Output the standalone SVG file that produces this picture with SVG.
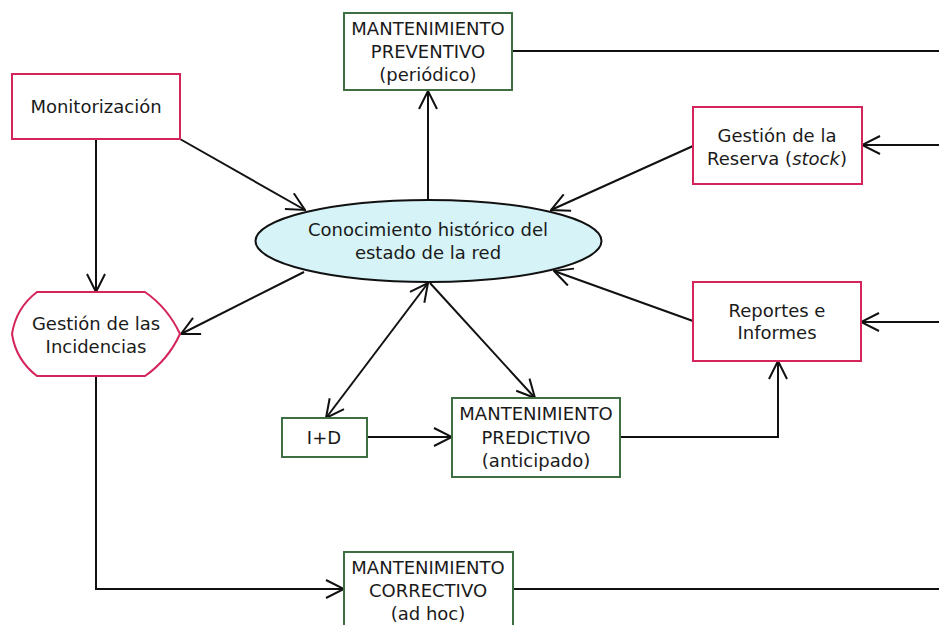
<svg xmlns="http://www.w3.org/2000/svg" width="939" height="625" viewBox="0 0 939 625">
  <defs>
    <marker id="arrow" viewBox="0 0 20 20" refX="19" refY="10" markerWidth="20" markerHeight="20" markerUnits="userSpaceOnUse" orient="auto-start-reverse">
      <path d="M1,1 L19,10 L1,19" fill="none" stroke="#111" stroke-width="2"/>
    </marker>
    <style>
      .lbl { font-family: "DejaVu Sans", "Liberation Sans", sans-serif; font-size: 18px; fill: #1a1a1a; text-anchor: middle; }
      .green { fill: #ffffff; stroke: #3f6e42; stroke-width: 2; }
      .pink { fill: #ffffff; stroke: #d4245a; stroke-width: 2; }
      .edge { fill: none; stroke: #111; stroke-width: 2; }
      .arr { marker-end: url(#arrow); }
      .both { marker-start: url(#arrow); marker-end: url(#arrow); }
    </style>
  </defs>
  <rect width="939" height="625" fill="#ffffff"/>

  <!-- connectors -->
  <g id="connectors">
    <path class="edge arr" d="M180,139 L305,210"/>
    <path class="edge arr" d="M96,139 L96,292"/>
    <path class="edge arr" d="M428,200 L428,91"/>
    <path class="edge arr" d="M693,146 L551,210"/>
    <path class="edge arr" d="M304,272 L181,334"/>
    <path class="edge both" d="M428,283 L326,418"/>
    <path class="edge arr" d="M430,283 L535,398"/>
    <path class="edge arr" d="M693,321 L554,271"/>
    <path class="edge arr" d="M367,437 L452,437"/>
    <path class="edge arr" d="M620,437 L778,437 L778,361"/>
    <path class="edge arr" d="M96,376 L96,589 L344,589"/>
    <path class="edge" d="M512,51 L939,51"/>
    <path class="edge arr" d="M939,145 L862,145"/>
    <path class="edge arr" d="M939,322 L861,322"/>
    <path class="edge" d="M513,589 L939,589"/>
  </g>

  <g id="preventivo">
    <rect class="green" x="344" y="13" width="168" height="77"/>
    <text class="lbl" x="428" y="35">MANTENIMIENTO</text>
    <text class="lbl" x="428" y="58">PREVENTIVO</text>
    <text class="lbl" x="428" y="81">(periódico)</text>
  </g>

  <g id="monitorizacion">
    <rect class="pink" x="12" y="74" width="168" height="65"/>
    <text class="lbl" x="96" y="113">Monitorización</text>
  </g>

  <g id="reserva">
    <rect class="pink" x="693" y="107" width="169" height="77"/>
    <text class="lbl" x="777" y="142">Gestión de la</text>
    <text class="lbl" x="777" y="165">Reserva (<tspan font-style="italic">stock</tspan>)</text>
  </g>

  <g id="conocimiento">
    <ellipse cx="428.5" cy="241" rx="173" ry="41" fill="#d6f3f8" stroke="#111" stroke-width="2"/>
    <text class="lbl" x="428" y="236">Conocimiento histórico del</text>
    <text class="lbl" x="428" y="259">estado de la red</text>
  </g>

  <g id="incidencias">
    <path class="pink" d="M37,292 L145,292 Q168,308 180,334 Q168,360 145,376 L37,376 Q16,360 12,334 Q16,308 37,292 Z"/>
    <text class="lbl" x="96" y="330">Gestión de las</text>
    <text class="lbl" x="96" y="353">Incidencias</text>
  </g>

  <g id="reportes">
    <rect class="pink" x="693" y="282" width="168" height="79"/>
    <text class="lbl" x="777" y="317">Reportes e</text>
    <text class="lbl" x="777" y="339">Informes</text>
  </g>

  <g id="imasd">
    <rect class="green" x="282" y="418" width="85" height="39"/>
    <text class="lbl" x="324" y="444">I+D</text>
  </g>

  <g id="predictivo">
    <rect class="green" x="452" y="398" width="168" height="79"/>
    <text class="lbl" x="536" y="420">MANTENIMIENTO</text>
    <text class="lbl" x="536" y="444">PREDICTIVO</text>
    <text class="lbl" x="536" y="467">(anticipado)</text>
  </g>

  <g id="correctivo">
    <rect class="green" x="344" y="552" width="169" height="80"/>
    <text class="lbl" x="428" y="574">MANTENIMIENTO</text>
    <text class="lbl" x="428" y="597">CORRECTIVO</text>
    <text class="lbl" x="428" y="620">(ad hoc)</text>
  </g>
</svg>
